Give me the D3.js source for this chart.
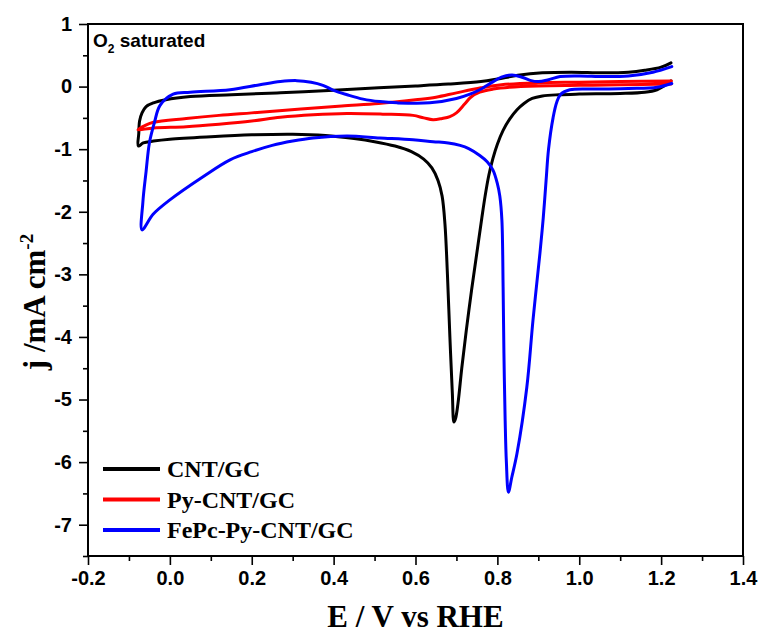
<!DOCTYPE html>
<html>
<head>
<meta charset="utf-8">
<script src="https://cdn.jsdelivr.net/npm/d3@7"></script>
<style>
  body { margin: 0; background: #fff; }
  svg { display: block; }
</style>
</head>
<body>
<div id="chart"></div>
<script>
// CV curves, [E (V vs RHE), j (mA cm-2)]
const cntGC = [
  [1.224, 0.09], [1.21, 0.02], [1.19, -0.05], [1.16, -0.09], [1.10, -0.11], [1.0, -0.12],
  [0.95, -0.13], [0.91, -0.15], [0.885, -0.19], [0.865, -0.27], [0.848, -0.37], [0.83, -0.52],
  [0.814, -0.70], [0.80, -0.92], [0.789, -1.15], [0.779, -1.42], [0.77, -1.75], [0.762, -2.1],
  [0.75, -2.65], [0.737, -3.25], [0.724, -3.9], [0.713, -4.5], [0.704, -5.05], [0.698, -5.3],
  [0.694, -5.36], [0.690, -4.9], [0.684, -4.0], [0.678, -3.0], [0.672, -2.2], [0.665, -1.75],
  [0.655, -1.5], [0.64, -1.3], [0.62, -1.16], [0.59, -1.04], [0.55, -0.95], [0.50, -0.88],
  [0.45, -0.83], [0.38, -0.78], [0.30, -0.76], [0.20, -0.77], [0.10, -0.80], [0.0, -0.84],
  [-0.04, -0.87], [-0.065, -0.90], [-0.077, -0.95], [-0.076, -0.75], [-0.074, -0.55],
  [-0.068, -0.42], [-0.058, -0.32], [-0.04, -0.26], [-0.01, -0.21], [0.05, -0.16],
  [0.15, -0.13], [0.27, -0.10], [0.40, -0.06], [0.51, -0.02], [0.60, 0.01], [0.68, 0.04],
  [0.76, 0.08], [0.80, 0.12], [0.85, 0.18], [0.91, 0.22], [0.98, 0.23], [1.06, 0.22],
  [1.12, 0.23], [1.16, 0.26], [1.20, 0.31], [1.224, 0.38]
];

const pyCntGC = [
  [1.225, 0.04], [1.1, 0.03], [1.0, 0.02], [0.90, 0.01], [0.83, -0.01], [0.79, -0.04],
  [0.757, -0.09], [0.735, -0.17], [0.72, -0.28], [0.70, -0.42], [0.684, -0.48], [0.665, -0.51],
  [0.643, -0.53], [0.62, -0.50], [0.594, -0.46], [0.52, -0.44], [0.433, -0.43], [0.35, -0.45],
  [0.27, -0.49], [0.20, -0.55], [0.12, -0.60], [0.04, -0.64], [-0.04, -0.66], [-0.078, -0.69],
  [-0.06, -0.62], [-0.04, -0.57], [0.04, -0.51], [0.12, -0.46], [0.20, -0.42], [0.32, -0.36],
  [0.42, -0.31], [0.51, -0.27], [0.60, -0.21], [0.65, -0.17], [0.70, -0.10], [0.76, -0.02],
  [0.81, 0.03], [0.90, 0.06], [1.0, 0.07], [1.1, 0.08], [1.225, 0.09]
];

const fepcPyCntGC = [
  [1.226, 0.05], [1.19, -0.01], [1.12, -0.03], [1.05, -0.04], [0.977, -0.05], [0.955, -0.12],
  [0.945, -0.25], [0.936, -0.5], [0.925, -1.0], [0.919, -1.5], [0.912, -2.1], [0.904, -2.66],
  [0.887, -3.73], [0.872, -4.8], [0.848, -5.86], [0.835, -6.25], [0.827, -6.48], [0.822, -6.0],
  [0.819, -5.33], [0.816, -4.26], [0.814, -3.2], [0.811, -2.13], [0.806, -1.75], [0.80, -1.55],
  [0.789, -1.33], [0.775, -1.2], [0.757, -1.1], [0.73, -0.99], [0.709, -0.94], [0.68, -0.9],
  [0.643, -0.88], [0.594, -0.85], [0.513, -0.82], [0.433, -0.79], [0.35, -0.82], [0.30, -0.87],
  [0.25, -0.94], [0.20, -1.04], [0.147, -1.17], [0.081, -1.44], [0.0, -1.81], [-0.041, -2.04],
  [-0.068, -2.29], [-0.066, -1.85], [-0.058, -1.35], [-0.05, -0.9], [-0.038, -0.58],
  [-0.024, -0.3], [0.008, -0.12], [0.05, -0.09], [0.147, -0.05], [0.22, 0.03], [0.27, 0.08],
  [0.31, 0.095], [0.345, 0.07], [0.374, 0.02], [0.40, -0.06], [0.433, -0.13], [0.472, -0.2],
  [0.513, -0.24], [0.555, -0.26], [0.635, -0.26], [0.70, -0.19], [0.733, -0.12], [0.757, -0.05],
  [0.79, 0.08], [0.81, 0.15], [0.836, 0.185], [0.86, 0.15], [0.88, 0.10], [0.90, 0.08],
  [0.925, 0.11], [0.953, 0.16], [1.0, 0.17], [1.06, 0.16], [1.12, 0.17], [1.18, 0.23], [1.226, 0.32]
];

const seriesNames = ['CNT/GC', 'Py-CNT/GC', 'FePc-Py-CNT/GC'];
const seriesColors = ['#000000', '#ff0000', '#0000ff'];
const seriesData = [cntGC, pyCntGC, fepcPyCntGC];

const xTicks = [-0.2, 0.0, 0.2, 0.4, 0.6, 0.8, 1.0, 1.2, 1.4];
const xMinorTicks = [-0.1, 0.1, 0.3, 0.5, 0.7, 0.9, 1.1, 1.3];
const yTicks = [-7, -6, -5, -4, -3, -2, -1, 0, 1];
const yMinorTicks = [-7.5, -6.5, -5.5, -4.5, -3.5, -2.5, -1.5, -0.5, 0.5];

const width = 763;
const height = 635;
const margin = { top: 24, right: 20, bottom: 79, left: 88 };
const innerW = width - margin.left - margin.right;
const innerH = height - margin.top - margin.bottom;

const svg = d3
  .select('#chart')
  .append('svg')
  .attr('width', width)
  .attr('height', height);

const x = d3.scaleLinear().domain([-0.2, 1.4]).range([0, innerW]);
const y = d3.scaleLinear().domain([-7.5, 1]).range([innerH, 0]);

const g = svg.append('g').attr('transform', `translate(${margin.left},${margin.top})`);

// curves
const line = d3
  .line()
  .x((d) => x(d[0]))
  .y((d) => y(d[1]))
  .curve(d3.curveCatmullRom.alpha(0.5));

g.append('g')
  .selectAll('path')
  .data(seriesData)
  .enter()
  .append('path')
  .attr('d', (d) => line(d))
  .attr('fill', 'none')
  .attr('stroke', (d, i) => seriesColors[i])
  .attr('stroke-width', 3)
  .attr('stroke-linejoin', 'round')
  .attr('stroke-linecap', 'round');

// axes
const tickFont = (sel) =>
  sel
    .selectAll('text')
    .attr('font-family', '"Liberation Sans", Arial, sans-serif')
    .attr('font-weight', 'bold')
    .attr('font-size', '20px')
    .attr('fill', '#000');

const xAxis = g
  .append('g')
  .attr('transform', `translate(0,${innerH})`)
  .call(
    d3.axisBottom(x).tickValues(xTicks).tickSize(9).tickPadding(6)
      .tickFormat((d) => d.toFixed(1))
  );
xAxis.call(tickFont);

g.append('g')
  .attr('transform', `translate(0,${innerH})`)
  .call(d3.axisBottom(x).tickValues(xMinorTicks).tickSize(5).tickFormat(''));

const yAxis = g
  .append('g')
  .call(
    d3.axisLeft(y).tickValues(yTicks).tickSize(9).tickPadding(7)
      .tickFormat((d) => String(d))
  );
yAxis.call(tickFont);

g.append('g').call(d3.axisLeft(y).tickValues(yMinorTicks).tickSize(5).tickFormat(''));

g.selectAll('.domain').remove();
g.selectAll('.tick line').attr('stroke', '#000').attr('stroke-width', 1.6);

// frame
g.append('rect')
  .attr('x', 0)
  .attr('y', 0)
  .attr('width', innerW)
  .attr('height', innerH)
  .attr('fill', 'none')
  .attr('stroke', '#000')
  .attr('stroke-width', 2);

// annotation
const note = g
  .append('text')
  .attr('x', 5)
  .attr('y', 23)
  .attr('font-family', '"Liberation Sans", Arial, sans-serif')
  .attr('font-weight', 'bold')
  .attr('font-size', '19px');
note.append('tspan').text('O');
note.append('tspan').attr('font-size', '12px').attr('dy', 6).text('2');
note.append('tspan').attr('dy', -6).text(' saturated');

// legend
const legend = g
  .append('g')
  .selectAll('g')
  .data(seriesNames)
  .enter()
  .append('g')
  .attr('transform', (d, i) => `translate(15,${445 + i * 30.5})`);

legend
  .append('line')
  .attr('x1', 0)
  .attr('x2', 57)
  .attr('stroke', (d, i) => seriesColors[i])
  .attr('stroke-width', 4);

legend
  .append('text')
  .attr('x', 64)
  .attr('y', 8)
  .attr('font-family', '"Liberation Serif", "Times New Roman", serif')
  .attr('font-weight', 'bold')
  .attr('font-size', '24px')
  .text((d) => d);

// axis titles
svg.append('text')
  .attr('x', margin.left + innerW / 2)
  .attr('y', 627)
  .attr('text-anchor', 'middle')
  .attr('font-family', '"Liberation Serif", "Times New Roman", serif')
  .attr('font-weight', 'bold')
  .attr('font-size', '31px')
  .text('E / V vs RHE');

const yTitle = svg
  .append('text')
  .attr('transform', 'translate(45,302) rotate(-90)')
  .attr('text-anchor', 'middle')
  .attr('font-family', '"Liberation Serif", "Times New Roman", serif')
  .attr('font-weight', 'bold')
  .attr('font-size', '31px');
yTitle.append('tspan').text('j /mA cm');
yTitle.append('tspan').attr('font-size', '19px').attr('dy', -12).text('-2');
</script>
</body>
</html>
